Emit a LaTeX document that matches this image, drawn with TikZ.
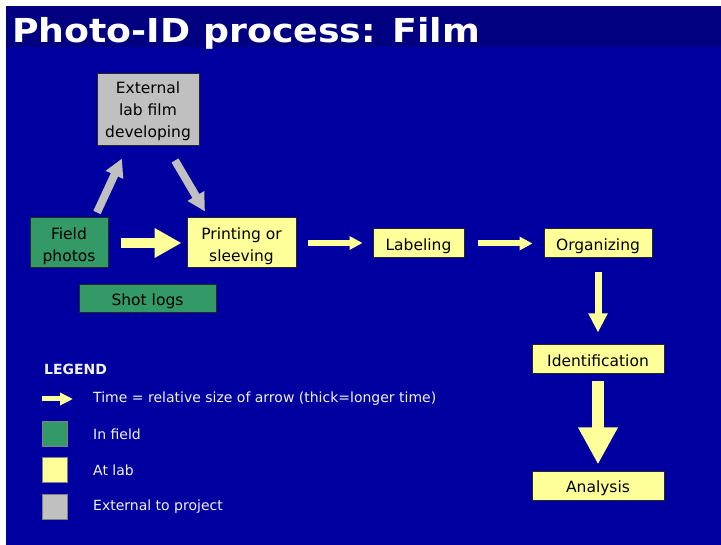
\documentclass[tikz,border=0pt]{standalone}
\usepackage{fontspec}
\setmainfont{DejaVu Sans}
\newfontfamily\titlefont[FakeStretch=1.1]{DejaVu Sans Bold}
\usetikzlibrary{arrows.meta}
\definecolor{slideblue}{RGB}{0,0,160}
\definecolor{titleblue}{RGB}{0,0,128}
\definecolor{fieldgreen}{RGB}{51,153,102}
\definecolor{labyellow}{RGB}{255,255,153}
\definecolor{extgray}{RGB}{192,192,192}
\newcommand{\boxfont}{\fontsize{15.5}{22}\selectfont}
\newcommand{\keyfont}{\fontsize{14}{17}\selectfont}
\tikzstyle{infield} = [rectangle, fill=fieldgreen, draw=black!85, line width=1pt, text centered, align=center, font=\boxfont, inner sep=0pt, text height=14pt, text depth=0pt]
\tikzstyle{atlab} = [rectangle, fill=labyellow, draw=black!85, line width=1pt, text centered, align=center, font=\boxfont, inner sep=0pt, text height=14pt, text depth=0pt]
\tikzstyle{external} = [rectangle, fill=extgray, draw=black!85, line width=1pt, text centered, align=center, font=\boxfont, inner sep=0pt, text height=14pt, text depth=0pt]
\tikzstyle{swatch} = [rectangle, draw=black!50, line width=1pt, minimum width=25pt, minimum height=25pt, inner sep=0pt]
\tikzstyle{keytext} = [anchor=west, text=white!95!black, font=\keyfont, inner sep=0pt]
\tikzstyle{thinarrow} = [labyellow, line width=6pt, -{Triangle[width=13pt,length=13pt]}]
\tikzstyle{midarrow} = [labyellow, line width=7pt, -{Triangle[width=18pt,length=19pt]}]
\tikzstyle{thickarrow} = [labyellow, line width=10pt, -{Triangle[width=28pt,length=27pt]}]
\tikzstyle{widearrow} = [labyellow, line width=12pt, -{Triangle[width=37pt,length=37pt]}]
\tikzstyle{grayarrow} = [extgray, line width=8pt, -{Triangle[width=18pt,length=18pt]}]

\begin{document}
\begin{tikzpicture}[x=1pt, y=-1pt]
% slide background
\useasboundingbox (0,0) rectangle (721,545);
\fill[white] (0,0) rectangle (721,545);
\fill[slideblue] (6,6) rectangle (721,545);
\fill[titleblue] (6,6) rectangle (721,47);
\node (title) [anchor=base west, inner sep=0pt, text=white, font=\titlefont\fontsize{33}{36}\selectfont] at (12,43) {Photo-ID process: Film};

% process boxes
\node (extlab) [external, minimum width=102pt, minimum height=72pt, text height=55pt] at (148,110) {External\\lab film\\developing};
\node (field) [infield, minimum width=78pt, minimum height=50pt, text height=37pt] at (69,243) {Field\\photos};
\node (print) [atlab, minimum width=109pt, minimum height=50pt, text height=37pt] at (241.5,243) {Printing or\\sleeving};
\node (shotlogs) [infield, minimum width=137pt, minimum height=28pt, text height=13pt] at (147.5,299) {Shot logs};
\node (label) [atlab, minimum width=91pt, minimum height=29pt, text height=15pt] at (418.5,243.5) {Labeling};
\node (organize) [atlab, minimum width=108pt, minimum height=29pt, text height=15pt] at (598,243.5) {Organizing};
\node (ident) [atlab, minimum width=132pt, minimum height=29pt] at (598,359.5) {Identification};
\node (analysis) [atlab, minimum width=132pt, minimum height=29pt, text height=13pt] at (598,486.5) {Analysis};

% time arrows
\draw [grayarrow] ([xshift=28pt,yshift=5pt]field.north) -- ([xshift=-26pt,yshift=-12pt]extlab.south);
\draw [grayarrow] ([xshift=27pt,yshift=-14pt]extlab.south) -- ([xshift=-36.5pt,yshift=6pt]print.north);
\draw [thickarrow, shorten <=12pt, shorten >=5pt] (field.east) -- (print.west);
\draw [thinarrow, shorten <=11pt, shorten >=10pt] (print.east) -- (print.east -| label.west);
\draw [thinarrow, shorten <=13pt, shorten >=11pt] (label.east) -- (organize.west);
\draw [midarrow, shorten <=14pt, shorten >=12pt] (organize.south) -- (ident.north);
\draw [widearrow, shorten <=7pt, shorten >=7pt] (ident.south) -- (analysis.north);

% legend
\node (legend) [anchor=west, inner sep=0pt, text=white!95!black, font=\fontsize{14}{17}\selectfont\bfseries] at (44,369) {LEGEND};
\coordinate (keystart) at (42,399);
\coordinate (keyend) at (73,399);
\draw [thinarrow, line width=5pt, -{Triangle[width=12pt,length=13pt]}] (keystart) -- (keyend);
\node (keytime) [keytext] at (93,399) {Time = relative size of arrow (thick=longer time)};
\node (keyfield) [swatch, fill=fieldgreen] at (54.5,434.5) {};
\node (keylab) [swatch, fill=labyellow] at (54.5,470.5) {};
\node (keyext) [swatch, fill=extgray] at (54.5,507) {};
\node (txtfield) [keytext] at (93,434.5) {In field};
\node (txtlab) [keytext] at (93,470.5) {At lab};
\node (txtext) [keytext] at (93,507) {External to project};
\end{tikzpicture}
\end{document}
